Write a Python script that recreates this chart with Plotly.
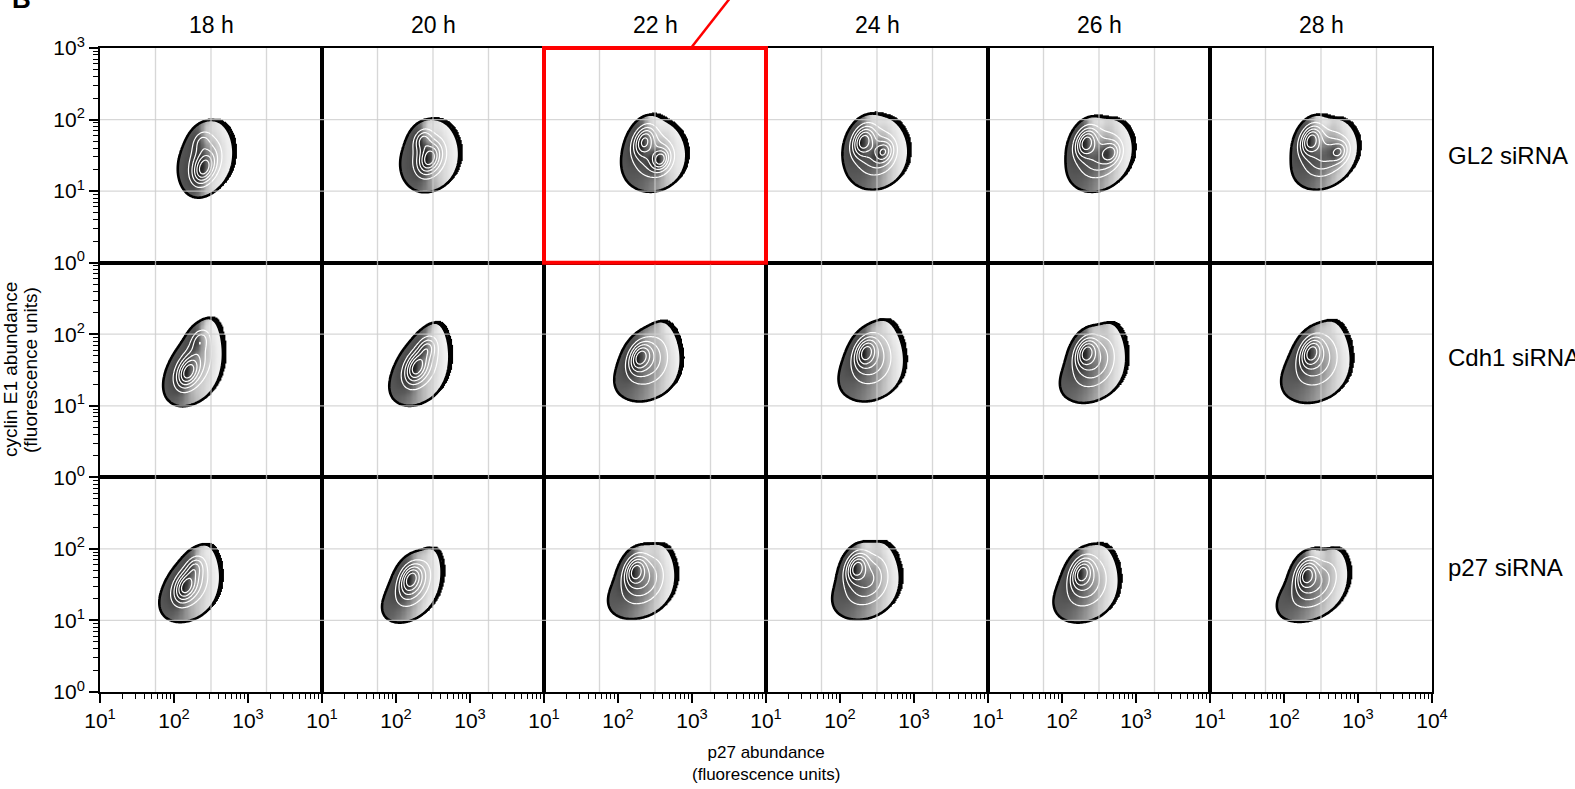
import numpy as np
import plotly.graph_objects as go
from plotly.subplots import make_subplots

# ---------------- data (log10 units) ----------------
times = ["18 h", "20 h", "22 h", "24 h", "26 h", "28 h"]
conditions = ["GL2 siRNA", "Cdh1 siRNA", "p27 siRNA"]

x_tick_vals = [10, 100, 1000, 10000]
x_tick_text = ["10<sup>1</sup>", "10<sup>2</sup>", "10<sup>3</sup>", "10<sup>4</sup>"]
y_tick_vals = [1, 10, 100, 1000]
y_tick_text = ["10<sup>0</sup>", "10<sup>1</sup>", "10<sup>2</sup>", "10<sup>3</sup>"]

# outer extent of each density cloud (rows = conditions, columns = times)
env_x_min = [[2.03, 2.04, 2.03, 2.04, 2.03, 2.07],
             [1.86, 1.91, 1.95, 1.98, 1.97, 1.96],
             [1.80, 1.81, 1.86, 1.89, 1.88, 1.90]]
env_x_max = [[2.84, 2.88, 2.95, 2.95, 3.01, 3.05],
             [2.74, 2.80, 2.92, 2.93, 2.95, 2.98],
             [2.70, 2.70, 2.86, 2.88, 2.84, 2.97]]
env_y_min = [[0.95, 0.99, 0.99, 1.02, 0.99, 1.02],
             [1.00, 1.00, 1.06, 1.06, 1.04, 1.04],
             [0.98, 0.97, 1.02, 1.01, 0.97, 0.98]]
env_y_max = [[1.99, 2.00, 1.99, 2.05, 2.02, 2.02],
             [2.22, 2.16, 2.18, 2.20, 2.16, 2.19],
             [2.06, 2.01, 2.07, 2.10, 2.06, 2.01]]
# x position of the top tip and of the lowest point of each cloud
tip_x = [[2.42, 2.42, 2.46, 2.45, 2.55, 2.65],
         [2.43, 2.47, 2.46, 2.47, 2.49, 2.50],
         [2.35, 2.42, 2.41, 2.39, 2.32, 2.53]]
bottom_x = [[2.26, 2.31, 2.35, 2.34, 2.32, 2.40],
            [2.09, 2.13, 2.17, 2.22, 2.15, 2.19],
            [2.03, 2.01, 2.06, 2.10, 2.03, 2.07]]
# how much narrower the top of the cloud is than its base
taper = [[0.10, 0.10, 0.10, 0.10, 0.10, 0.10],
         [0.30, 0.30, 0.30, 0.30, 0.30, 0.30],
         [0.28, 0.28, 0.28, 0.28, 0.28, 0.28]]
# main density peak
peak_x = [[2.40, 2.45, 2.35, 2.31, 2.32, 2.36],
          [2.18, 2.27, 2.29, 2.34, 2.32, 2.36],
          [2.15, 2.19, 2.23, 2.22, 2.26, 2.30]]
peak_y = [[1.30, 1.45, 1.71, 1.71, 1.69, 1.72],
          [1.46, 1.53, 1.69, 1.76, 1.76, 1.76],
          [1.47, 1.60, 1.71, 1.75, 1.68, 1.66]]
# secondary peak and its relative height (0 = none)
second_x = [[2.37, 2.36, 2.58, 2.60, 2.67, 2.76],
            [2.35, 2.42, 2.40, 2.40, 2.40, 2.40],
            [2.28, 2.25, 2.30, 2.30, 2.30, 2.30]]
second_y = [[1.70, 1.72, 1.44, 1.55, 1.53, 1.55],
            [1.92, 1.81, 1.90, 1.90, 1.90, 1.90],
            [1.75, 1.80, 1.85, 1.85, 1.85, 1.85]]
second_w = [[0.35, 0.70, 0.80, 0.55, 0.50, 0.45],
            [0.45, 0.55, 0.00, 0.00, 0.00, 0.00],
            [0.50, 0.00, 0.00, 0.00, 0.00, 0.00]]

FONT = "Liberation Sans, Arial, sans-serif"
W, H = 1575, 789
ML, MR, MT, MB = 100, 143, 48, 97
PW, PH = W - ML - MR, H - MT - MB

NR, NC = 3, 6
fig = make_subplots(rows=NR, cols=NC, horizontal_spacing=0, vertical_spacing=0)

lx = np.linspace(1.5, 3.5, 121)
ly = np.linspace(0.5, 2.7, 133)
LX, LY = np.meshgrid(lx, ly)


def gauss(GX, GY, mx, my, sx, sy, rho):
    dx = (GX - mx) / sx
    dy = (GY - my) / sy
    q = (dx * dx - 2 * rho * dx * dy + dy * dy) / (1 - rho * rho)
    return np.exp(-q / 2)


T_ABS = 0.04
W_ENV = 0.5
W_CORE = 0.7
R_ENV = np.sqrt(-2 * np.log(T_ABS / W_ENV))
SHADOW_DX, SHADOW_DY = 0.05, 0.025


def density(GX, GY, r, c):
    y0, y1 = env_y_min[r][c], env_y_max[r][c]
    cy = 0.5 * (y0 + y1)
    sy = 0.5 * (y1 - y0) / R_ENV
    frac = (GY - y0) / (y1 - y0)
    xc = bottom_x[r][c] + (tip_x[r][c] - bottom_x[r][c]) * frac
    xc = xc + 0.5 * (env_x_min[r][c] + env_x_max[r][c]) - 0.5 * (tip_x[r][c] + bottom_x[r][c])
    half = 0.5 * (env_x_max[r][c] - env_x_min[r][c]) - 0.25 * abs(tip_x[r][c] - bottom_x[r][c])
    sx = half / R_ENV * np.clip(1 - taper[r][c] * (GY - cy) / (y1 - cy), 0.3, 1.25)
    Z = W_ENV * np.exp(-0.5 * (((GX - xc) / sx) ** 2 + ((GY - cy) / sy) ** 2))
    Z = Z + W_CORE * gauss(GX, GY, peak_x[r][c], peak_y[r][c], 0.10, 0.14, 0.3)
    if second_w[r][c] > 0:
        Z = Z + W_CORE * second_w[r][c] * gauss(GX, GY, second_x[r][c], second_y[r][c],
                                                0.08, 0.10, 0.2)
    return Z


X = 10 ** lx
Y = 10 ** ly
for r in range(NR):
    for c in range(NC):
        Z = density(LX, LY, r, c)
        zmax = Z.max()
        zn = Z / zmax
        lnZ = np.log(Z + 1e-12)
        gx = np.gradient(lnZ, lx, axis=1)
        gy = np.gradient(lnZ, ly, axis=0)
        shade = 0.66 - 0.42 * zn - 0.32 * np.tanh((gx + 0.3 * gy) / 6.0)
        shade = np.clip(shade, 0.05, 0.95)
        shade = np.where(Z >= T_ABS, shade, np.nan).astype(np.float32)
        Zr = Z.astype(np.float32)

        # drop-shadow of the outline (heavier black edge on the upper right), fine grid
        sx_ax = np.arange(env_x_min[r][c] - 0.15, env_x_max[r][c] + 0.2, 0.006)
        sy_ax = np.arange(env_y_min[r][c] - 0.1, env_y_max[r][c] + 0.15, 0.006)
        SX, SY = np.meshgrid(sx_ax, sy_ax)
        Zs = density(SX - SHADOW_DX, SY - SHADOW_DY, r, c)
        shadow = (Zs >= T_ABS).astype(np.float32)
        fig.add_trace(go.Heatmap(x=10 ** sx_ax, y=10 ** sy_ax, z=shadow,
                                 colorscale=[[0, "rgba(0,0,0,0)"], [0.5, "rgba(0,0,0,0)"],
                                             [0.5001, "black"], [1, "black"]],
                                 zmin=0, zmax=1, showscale=False, hoverinfo="skip"),
                      row=r + 1, col=c + 1)
        fig.add_trace(go.Heatmap(x=X, y=Y, z=shade,
                                 colorscale=[[0, "black"], [1, "white"]],
                                 zmin=0, zmax=1, showscale=False, hoverinfo="skip"),
                      row=r + 1, col=c + 1)
        fig.add_trace(go.Contour(x=X, y=Y, z=Zr, autocontour=False,
                                 contours=dict(coloring="none", start=0.22 * zmax,
                                               end=0.87 * zmax, size=0.16 * zmax),
                                 line=dict(color="white", width=1.2),
                                 showscale=False, hoverinfo="skip"),
                      row=r + 1, col=c + 1)
        fig.add_trace(go.Contour(x=X, y=Y, z=Zr, autocontour=False,
                                 contours=dict(coloring="none", start=T_ABS,
                                               end=T_ABS, size=1),
                                 line=dict(color="black", width=2.6),
                                 showscale=False, hoverinfo="skip"),
                      row=r + 1, col=c + 1)

        idx = r * NC + c + 1
        xn = "x" if idx == 1 else f"x{idx}"
        yn = "y" if idx == 1 else f"y{idx}"
        # grid lines drawn over the clouds
        for fx in (0.25, 0.5, 0.75):
            fig.add_shape(type="line", xref=f"{xn} domain", yref=f"{yn} domain",
                          x0=fx, x1=fx, y0=0, y1=1, layer="above",
                          line=dict(color="rgba(205,205,205,0.8)", width=1.3))
        for fy in (1 / 3, 2 / 3):
            fig.add_shape(type="line", xref=f"{xn} domain", yref=f"{yn} domain",
                          x0=0, x1=1, y0=fy, y1=fy, layer="above",
                          line=dict(color="rgba(205,205,205,0.8)", width=1.3))

        xa = dict(type="log", range=[1, 4], showgrid=False, zeroline=False,
                  showline=True, mirror=True, linecolor="black", linewidth=2)
        if r == NR - 1:
            nx = 4 if c == NC - 1 else 3
            xa.update(tickmode="array", tickvals=x_tick_vals[:nx], ticktext=x_tick_text[:nx],
                      ticks="outside", ticklen=9, tickwidth=2, tickcolor="black",
                      tickfont=dict(size=21, color="black", family=FONT),
                      minor=dict(ticks="outside", ticklen=5, tickwidth=1,
                                 tickcolor="black", dtick="D1", showgrid=False))
        else:
            xa.update(showticklabels=False, ticks="")
        fig.update_xaxes(row=r + 1, col=c + 1, **xa)

        ya = dict(type="log", range=[0, 3], showgrid=False, zeroline=False,
                  showline=True, mirror=True, linecolor="black", linewidth=2)
        if c == 0:
            ny = 4 if r == 0 else 3
            ya.update(tickmode="array", tickvals=y_tick_vals[:ny], ticktext=y_tick_text[:ny],
                      ticks="outside", ticklen=9, tickwidth=2, tickcolor="black",
                      tickfont=dict(size=21, color="black", family=FONT),
                      minor=dict(ticks="outside", ticklen=5, tickwidth=1,
                                 tickcolor="black", dtick="D1", showgrid=False))
        else:
            ya.update(showticklabels=False, ticks="")
        fig.update_yaxes(row=r + 1, col=c + 1, **ya)


def px_x(p):
    return (p - ML) / PW


def px_y(p):
    return (H - MB - p) / PH


annotations = []
for c, t in enumerate(times):
    annotations.append(dict(text=t, xref="paper", yref="paper",
                            x=(c + 0.5) / NC, y=px_y(25), xanchor="center", yanchor="middle",
                            showarrow=False, font=dict(size=23, color="black", family=FONT)))
label_y = [155, 357, 567]
for r, lab in enumerate(conditions):
    annotations.append(dict(text=lab, xref="paper", yref="paper",
                            x=px_x(1446), y=px_y(label_y[r]), xanchor="left", yanchor="middle",
                            showarrow=False, font=dict(size=24, color="black", family=FONT)))
annotations.append(dict(text="p27 abundance<br>(fluorescence units)", xref="paper", yref="paper",
                        x=0.5, y=px_y(741), xanchor="center", yanchor="top", showarrow=False,
                        font=dict(size=17, color="black", family=FONT)))
y_title_lines = ["cyclin E1 abundance", "(fluorescence units)"]
for line, xc in zip(y_title_lines, (10, 30)):
    annotations.append(dict(text=line, xref="paper", yref="paper",
                            x=px_x(xc), y=0.5, xanchor="center", yanchor="middle",
                            textangle=-90, showarrow=False,
                            font=dict(size=19, color="black", family=FONT)))
annotations.append(dict(text="<b>B</b>", xref="paper", yref="paper",
                        x=px_x(21), y=px_y(-1), xanchor="center", yanchor="middle",
                        showarrow=False, font=dict(size=26, color="black", family=FONT)))

fig.update_layout(annotations=annotations)

# red highlight box on GL2 siRNA, 22 h and its pointer line
fig.add_shape(type="rect", xref="x3 domain", yref="y3 domain", x0=0, x1=1, y0=0, y1=1,
              layer="above", line=dict(color="#ff0000", width=4))
fig.add_shape(type="line", xref="x3 domain", yref="y3 domain", x0=0.662, y0=1,
              x1=0.84, y1=1.235, layer="above", line=dict(color="#ff0000", width=2.5))

fig.update_layout(width=W, height=H, margin=dict(l=ML, r=MR, t=MT, b=MB),
                  paper_bgcolor="white", plot_bgcolor="white", showlegend=False,
                  font=dict(family=FONT, color="black"))

fig.write_html("out.html", config={"displayModeBar": False},
               post_script="document.body.style.margin='0px';"
                           "document.body.style.overflow='hidden';")
